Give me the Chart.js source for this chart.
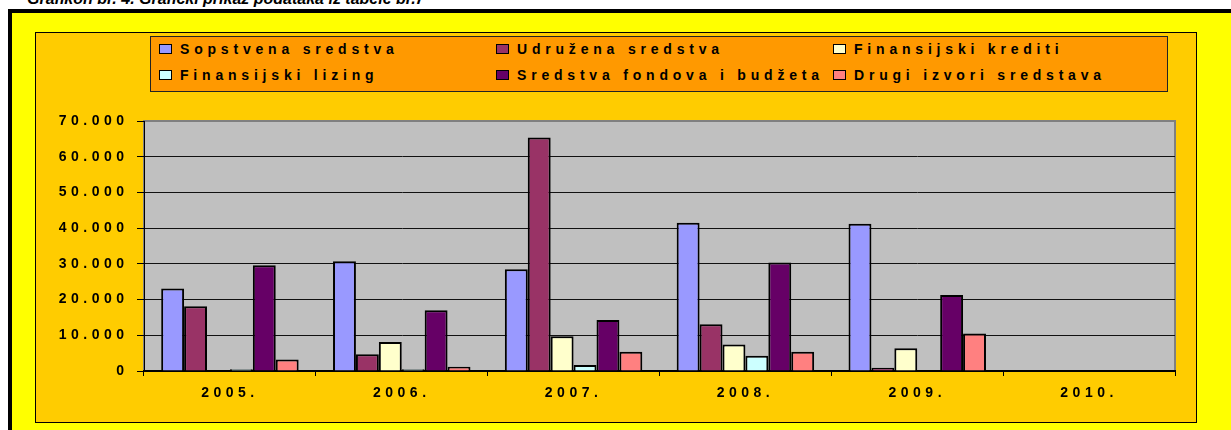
<!DOCTYPE html>
<html lang="sr">
<head>
  <meta charset="UTF-8">
  <title>Grafikon br. 4</title>
  <script src="https://cdn.jsdelivr.net/npm/chart.js"></script>
  <style>
    html, body { margin: 0; padding: 0; background: #fff; overflow: hidden; width: 1231px; height: 430px; }
    body { position: relative; font-family: "Liberation Sans", Arial, sans-serif; }
    #title { position: absolute; left: 27px; top: -9px; font: italic bold 16px/16px "Liberation Sans", Arial, sans-serif; white-space: nowrap; }
    #outer { position: absolute; left: 8px; top: 9px; width: 1300px; height: 500px; border: 4px solid #000; background: #ffff00; }
    #panel { position: absolute; left: 35px; top: 32px; width: 1162px; height: 391px; box-sizing: border-box; border: 1px solid #000; background: #ffcc00; }
    #chart { position: absolute; left: 0; top: 0; }
    #legend { position: absolute; left: 150px; top: 36px; width: 1018px; height: 56px; box-sizing: border-box; border: 1px solid #222; background: #ff9900; }
    .item { position: absolute; height: 16px; font-weight: bold; font-size: 14px; line-height: 16px; letter-spacing: 4.8px; white-space: nowrap; color: #000; }
    .item span.box { position: absolute; left: 0; top: 3px; width: 13px; height: 10px; box-sizing: border-box; border: 1.5px solid #000; }
    .item span.txt { position: absolute; left: 21px; top: 0; }
  </style>
</head>
<body>
  <div id="title">Grafikon br. 4. Grafički prikaz podataka iz tabele br.7</div>
  <div id="outer"></div>
  <div id="panel"><canvas id="chart" width="1160" height="389"></canvas></div>
  <div id="legend"></div>

  <script>
    // podaci
    const years = ['2005.', '2006.', '2007.', '2008.', '2009.', '2010.'];
    const seriesNames = ['Sopstvena sredstva', 'Udružena sredstva', 'Finansijski krediti',
                         'Finansijski lizing', 'Sredstva fondova i budžeta', 'Drugi izvori sredstava'];
    const sopstvena = [23100, 30700, 28500, 41500, 41200, null];
    const udruzena  = [18100, 4700, 65400, 13100, 900, null];
    const krediti   = [null, 8100, 9700, 7400, 6400, null];
    const lizing    = [500, 500, 1700, 4300, null, null];
    const fondovi   = [29600, 17000, 14300, 30400, 21300, null];
    const drugi     = [3200, 1200, 5400, 5400, 10500, null];
    const colors = ['#9999ff', '#993366', '#ffffcc', '#ccffff', '#660066', '#ff8080'];

    const allValues = [sopstvena, udruzena, krediti, lizing, fondovi, drugi];

    // legenda (3 kolone x 2 reda)
    const legend = document.getElementById('legend');
    seriesNames.forEach((name, i) => {
      const col = i % 3, row = Math.floor(i / 3);
      const el = document.createElement('div');
      el.className = 'item';
      el.style.left = (8 + col * 337) + 'px';
      el.style.top = (4 + row * 26) + 'px';
      el.innerHTML = '<span class="box" style="background:' + colors[i] + '"></span><span class="txt">' + name + '</span>';
      legend.appendChild(el);
    });

    const spacing = {
      id: 'spacing',
      beforeUpdate(chart) { chart.ctx.letterSpacing = '4.5px'; },
      beforeDraw(chart) {
        const { ctx, chartArea: a } = chart;
        ctx.letterSpacing = '4.5px';
        ctx.save();
        ctx.fillStyle = '#c0c0c0';
        ctx.fillRect(a.left, a.top, a.right - a.left, a.bottom - a.top);
        ctx.strokeStyle = '#808080';
        ctx.lineWidth = 2;
        ctx.strokeRect(a.left, a.top, a.right - a.left, a.bottom - a.top);
        ctx.restore();
      }
    };

    const font = { family: '"Liberation Sans", Arial, sans-serif', size: 14, weight: 'bold' };

    new Chart(document.getElementById('chart'), {
      type: 'bar',
      data: {
        labels: years,
        datasets: allValues.map((vals, i) => ({
          label: seriesNames[i],
          data: vals,
          backgroundColor: colors[i],
          borderColor: '#000',
          borderWidth: 2
        }))
      },
      options: {
        responsive: false,
        animation: false,
        devicePixelRatio: 1,
        categoryPercentage: 0.8,
        barPercentage: 1,
        layout: { padding: { top: 88, right: 21, left: 0, bottom: 0 } },
        plugins: { legend: { display: false }, tooltip: { enabled: false } },
        scales: {
          x: {
            grid: { drawOnChartArea: false, drawTicks: true, tickLength: 5, tickColor: '#000', offset: true },
            border: { color: '#000', width: 2 },
            ticks: { font: font, color: '#000', padding: 8.6, maxRotation: 0, autoSkip: false },
            afterFit(s) { s.height = 51; }
          },
          y: {
            min: 0,
            max: 70000,
            grid: {
              color: c => c.tick && c.tick.value === 70000 ? '#808080' : '#111',
              lineWidth: 1,
              tickLength: 7,
              tickColor: '#000'
            },
            border: { color: '#000', width: 1 },
            ticks: {
              stepSize: 10000,
              font: font,
              color: '#000',
              padding: 8.5,
              callback: v => String(v).replace(/\B(?=(\d{3})+(?!\d))/g, '.')
            },
            afterFit(s) { s.width = 108; }
          }
        }
      },
      plugins: [spacing]
    });
  </script>
</body>
</html>
